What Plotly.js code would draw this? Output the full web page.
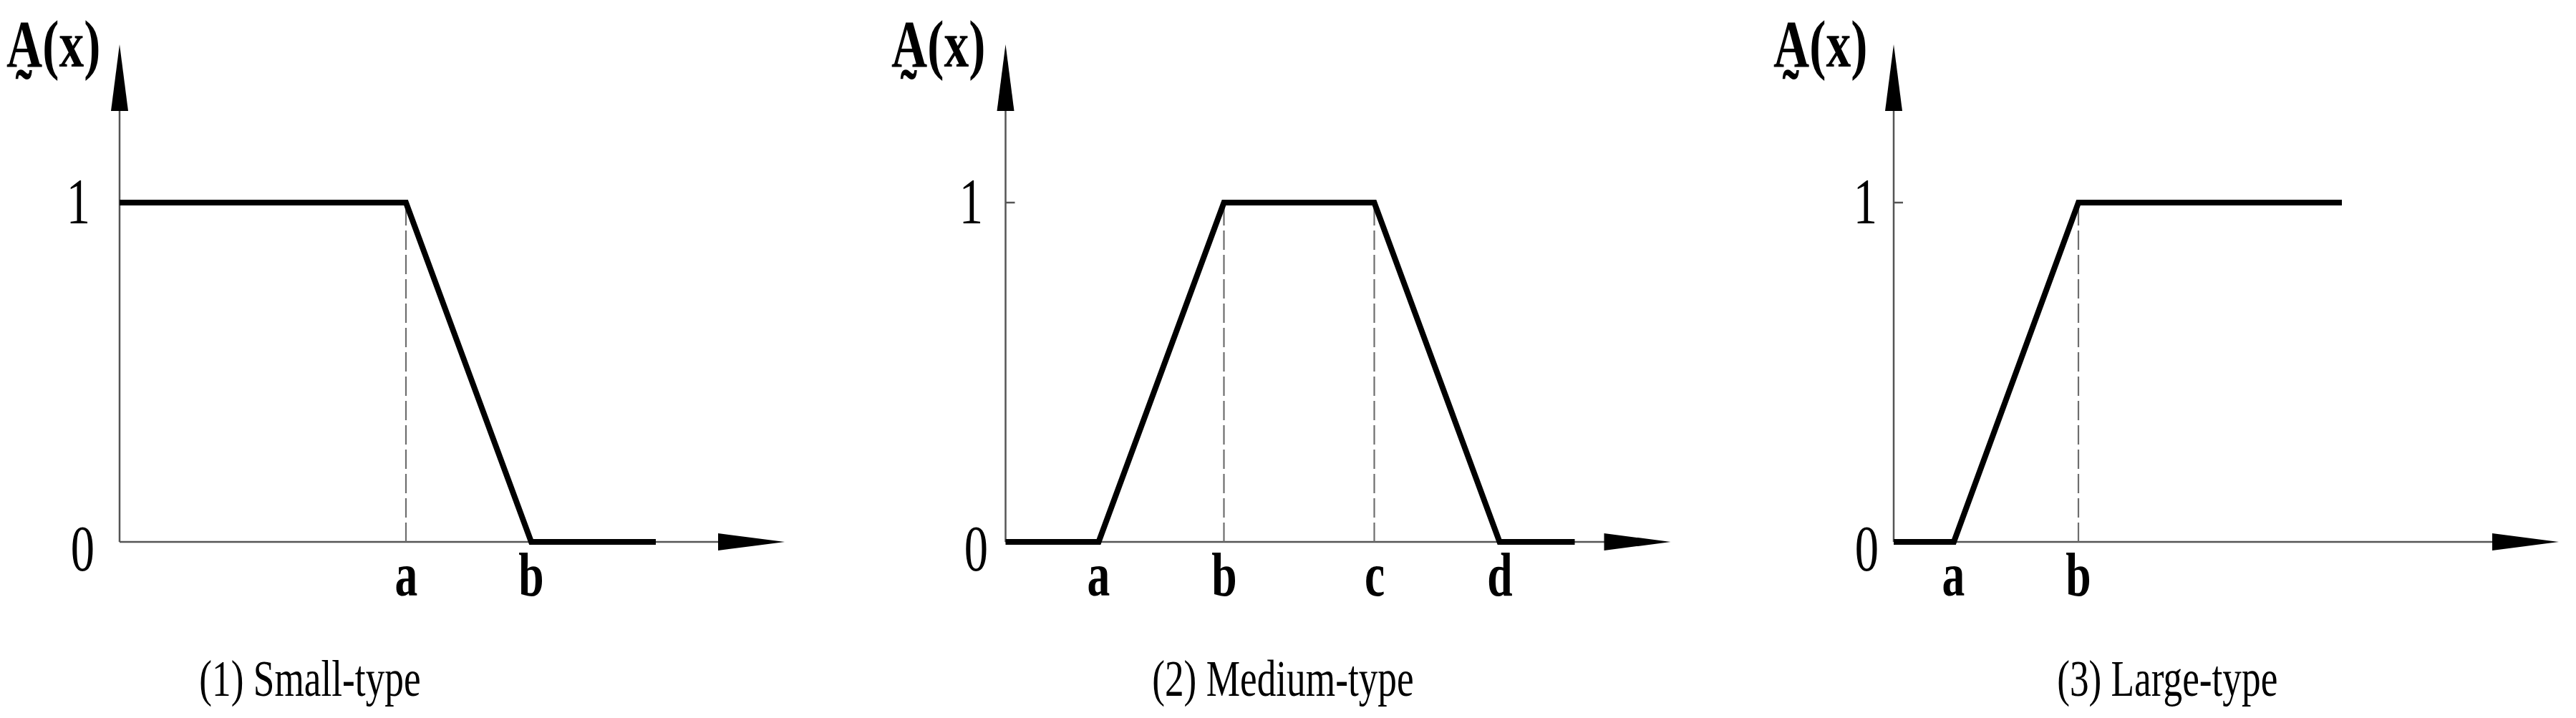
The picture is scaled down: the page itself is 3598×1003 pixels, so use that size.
<!DOCTYPE html>
<html>
<head>
<meta charset="utf-8">
<script src="https://cdn.plot.ly/plotly-3.0.1.min.js"></script>
<style>html,body{margin:0;padding:0;background:#fff;}</style>
</head>
<body>
<div id="chart" style="width:3598px;height:1003px;"></div>
<script>
// ---------------- DATA (x in abstract units from the origin) ----------------
const panelCaptions = ["(1) Small-type", "(2) Medium-type", "(3) Large-type"];
const yLabel = "A\u0330(x)";   // A with tilde below (fuzzy set notation)
const yTickLabels = ["0", "1"];
const yTickValues = [0, 1];

const smallBreakLabels = ["a", "b"];
const smallBreaks = [4.00, 5.75];
const smallExtent = [0, 7.49];
const smallMembership = [1, 1, 0, 0];

const mediumBreakLabels = ["a", "b", "c", "d"];
const mediumBreaks = [1.30, 3.05, 5.15, 6.90];
const mediumExtent = [0, 7.95];
const mediumMembership = [0, 0, 1, 1, 0, 0];

const largeBreakLabels = ["a", "b"];
const largeBreaks = [0.84, 2.58];
const largeExtent = [0, 6.26];
const largeMembership = [0, 0, 1, 1];

const xAxisLength = 9.29;   // arrow tip of the horizontal axis
const yAxisTop = 1.466;     // arrow tip of the vertical axis

// ---------------- LAYOUT / STYLE ----------------
const W = 3598, H = 1003;
const pxPerX = 100;          // pixels per x unit
const pxPerY = 474;          // pixels per y unit
const zeroFromTop = 757;     // pixel row of y = 0
const panels = [
  {origin: 167,    zeroDx: -52, oneDx: -58, labelDx: -92,  capDx: 266},
  {origin: 1404.5, zeroDx: -41, oneDx: -48, labelDx: -94,  capDx: 387},
  {origin: 2645,   zeroDx: -37, oneDx: -39, labelDx: -102, capDx: 382}
];
const serif = "Liberation Serif, Times New Roman, serif";
const thick = {color: "#000", width: 8};
const dashStyle = {color: "#6e6e6e", width: 2.2, dash: "27px,7px"};
const axisStyle = {color: "#555", width: 2.5};
const arrowLenPx = 93, arrowHalfPx = 12;
const condense = 0.74;

const series = [
  {labels: smallBreakLabels, breaks: smallBreaks, extent: smallExtent, mem: smallMembership},
  {labels: mediumBreakLabels, breaks: mediumBreaks, extent: mediumExtent, mem: mediumMembership},
  {labels: largeBreakLabels, breaks: largeBreaks, extent: largeExtent, mem: largeMembership}
];

const yMin = -(H - zeroFromTop) / pxPerY;
const yMax = yMin + H / pxPerY;

const layout = {
  width: W, height: H,
  margin: {l: 0, r: 0, t: 0, b: 0, pad: 0},
  paper_bgcolor: "#fff", plot_bgcolor: "rgba(0,0,0,0)",
  showlegend: false,
  yaxis: {visible: false, range: [yMin, yMax], domain: [0, 1], fixedrange: true},
  shapes: [], annotations: []
};

const traces = [];
series.forEach((s, i) => {
  const xa = i === 0 ? "x" : "x" + (i + 1);
  const axKey = i === 0 ? "xaxis" : "xaxis" + (i + 1);
  const d0 = i / 3, d1 = (i + 1) / 3;
  const startPx = d0 * W;
  const offU = (panels[i].origin - startPx) / pxPerX;
  const spanU = (d1 - d0) * W / pxPerX;
  layout[axKey] = {visible: false, domain: [d0, d1], range: [-offU, spanU - offU], anchor: "y", fixedrange: true};

  const xs = [s.extent[0], ...s.breaks, s.extent[1]];

  // dashed guides at breakpoints where membership reaches 1
  s.breaks.forEach((b, k) => {
    if (s.mem[k + 1] === 1) {
      traces.push({type: "scatter", mode: "lines", x: [b, b], y: [0, 1], xaxis: xa, yaxis: "y",
                   line: dashStyle, hoverinfo: "skip"});
    }
  });
  // membership function
  traces.push({type: "scatter", mode: "lines", x: xs, y: s.mem, xaxis: xa, yaxis: "y",
               line: thick, hoverinfo: "skip"});

  // axes as shapes
  const al = arrowLenPx / pxPerX, ah = arrowHalfPx / pxPerY;
  const alY = arrowLenPx / pxPerY, ahX = arrowHalfPx / pxPerX;
  layout.shapes.push(
    {type: "line", xref: xa, yref: "y", x0: 0, y0: 0, x1: xAxisLength - al / 2, y1: 0, line: axisStyle, layer: "below"},
    {type: "line", xref: xa, yref: "y", x0: 0, y0: 0, x1: 0, y1: yAxisTop - alY / 2, line: axisStyle, layer: "below"},
    {type: "line", xref: xa, yref: "y", x0: 0, y0: 1, x1: 0.13, y1: 1, line: axisStyle, layer: "below"},
    {type: "path", xref: xa, yref: "y",
     path: `M ${xAxisLength - al},${-ah} L ${xAxisLength},0 L ${xAxisLength - al},${ah} Z`,
     fillcolor: "#000", line: {width: 0}},
    {type: "path", xref: xa, yref: "y",
     path: `M ${-ahX},${yAxisTop - alY} L 0,${yAxisTop} L ${ahX},${yAxisTop - alY} Z`,
     fillcolor: "#000", line: {width: 0}}
  );

  // break labels
  s.breaks.forEach((b, k) => {
    layout.annotations.push({xref: xa, yref: "y", x: b, y: 0, yshift: -46, text: s.labels[k],
      showarrow: false, xanchor: "center", yanchor: "middle",
      font: {family: serif, size: 86, color: "#000", weight: "bold"}});
  });
  // y tick labels
  layout.annotations.push({xref: xa, yref: "y", x: 0, y: yTickValues[0], xshift: panels[i].zeroDx, yshift: -9,
    text: yTickLabels[0], showarrow: false, xanchor: "center", yanchor: "middle", font: {family: serif, size: 90, color: "#000"}});
  layout.annotations.push({xref: xa, yref: "y", x: 0, y: yTickValues[1], xshift: panels[i].oneDx, yshift: 2,
    text: yTickLabels[1], showarrow: false, xanchor: "center", yanchor: "middle", font: {family: serif, size: 90, color: "#000"}});
  // y label A(x) with tilde below A
  layout.annotations.push({xref: xa, yref: "y", x: 0, y: 1, xshift: panels[i].labelDx, yshift: 222,
    text: yLabel, showarrow: false, xanchor: "center", yanchor: "middle",
    font: {family: serif, size: 94, color: "#000", weight: "bold"}});
  // caption
  layout.annotations.push({xref: xa, yref: "y", x: 0, y: 0, xshift: panels[i].capDx, yshift: -191,
    text: panelCaptions[i], showarrow: false, xanchor: "center", yanchor: "middle", font: {family: serif, size: 72, color: "#000"}});
});

Plotly.newPlot("chart", traces, layout, {staticPlot: true, displayModeBar: false}).then(() => {
  document.querySelectorAll("#chart .annotation-text").forEach(t => {
    t.style.transformBox = "fill-box";
    t.style.transformOrigin = "center";
    t.style.transform = `scaleX(${condense})`;
  });
});
</script>
</body>
</html>
